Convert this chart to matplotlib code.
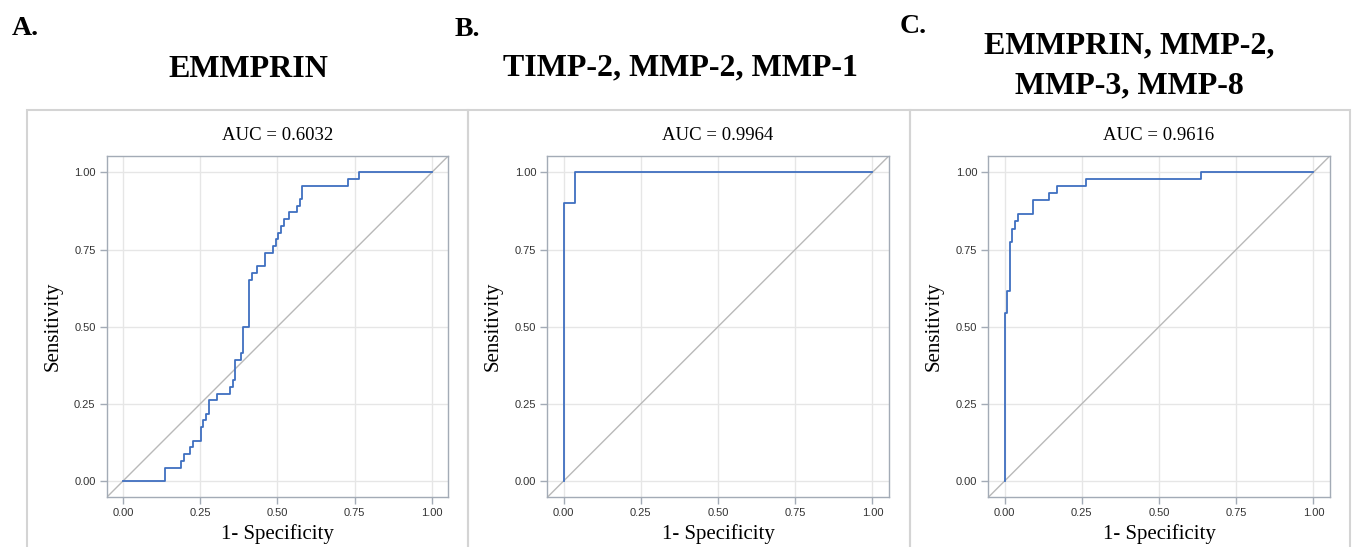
import numpy as np
import matplotlib
matplotlib.use("Agg")
import matplotlib.pyplot as plt
from matplotlib.patches import Rectangle

# ROC step points (1 - specificity, sensitivity)
fpr_a = [0, 0.137, 0.189, 0.197, 0.216, 0.225, 0.251, 0.259, 0.268, 0.277, 0.303,
         0.346, 0.355, 0.364, 0.381, 0.390, 0.408, 0.417, 0.434, 0.460, 0.485,
         0.494, 0.502, 0.512, 0.521, 0.538, 0.564, 0.573, 0.581, 0.729, 0.765, 1.0]
tpr_a = [0, 0.043, 0.065, 0.087, 0.109, 0.130, 0.174, 0.196, 0.217, 0.261, 0.283,
         0.304, 0.326, 0.391, 0.413, 0.500, 0.652, 0.674, 0.696, 0.739, 0.761,
         0.783, 0.804, 0.826, 0.848, 0.870, 0.891, 0.913, 0.957, 0.978, 1.0, 1.0]

fpr_b = [0, 0, 0.037, 1.0]
tpr_b = [0, 0.9, 1.0, 1.0]

fpr_c = [0, 0, 0.008, 0.016, 0.024, 0.032, 0.043, 0.091, 0.143, 0.169, 0.262, 0.635, 1.0]
tpr_c = [0, 0.545, 0.614, 0.773, 0.818, 0.841, 0.864, 0.909, 0.932, 0.955, 0.977, 1.0, 1.0]

panel_letters = ["A.", "B.", "C."]
panel_titles = ["EMMPRIN", "TIMP-2, MMP-2, MMP-1", "EMMPRIN, MMP-2,\nMMP-3, MMP-8"]
auc_values = [0.6032, 0.9964, 0.9616]
ticks = [0.0, 0.25, 0.5, 0.75, 1.0]
tick_labels = ["0.00", "0.25", "0.50", "0.75", "1.00"]

W, H = 1352, 547
fig = plt.figure(figsize=(W / 100, H / 100), dpi=100)

serif = "Liberation Serif"
sans = "Liberation Sans"
blue = "#3f6fc0"
frame_col = "#a3abb6"
grid_col = "#e6e6e6"
diag_col = "#b9b9b9"
box_col = "#d4d4d4"

curves = [(fpr_a, tpr_a), (fpr_b, tpr_b), (fpr_c, tpr_c)]
ax_left = [106.7, 547.3, 988.3]
ax_w = 341.5
ax_top, ax_bot = 156, 497.3
box_edges = [27, 468, 910, 1350]
letter_pos = [(12, 35), (455, 36), (900, 33)]
title_base = [77, 75, 93]
title_x = [248, 680, 1129]

for i in range(3):
    # grey outer frame of each panel
    x0 = box_edges[i]
    x1 = box_edges[i + 1]
    fig.add_artist(Rectangle((x0 / W, -0.1), (x1 - x0) / W, 0.1 + 1 - 110 / H,
                             transform=fig.transFigure, fill=False,
                             edgecolor=box_col, lw=1.5))

    left = ax_left[i]
    ax = fig.add_axes([left / W, 1 - ax_bot / H, ax_w / W, (ax_bot - ax_top) / H])
    fpr, tpr = curves[i]
    ax.axline((0, 0), (1, 1), color=diag_col, lw=1.0, zorder=2)
    ax.plot(fpr, tpr, drawstyle="steps-post", color=blue, lw=1.3, zorder=3)
    ax.set_xlim(-0.053, 1.053)
    ax.set_ylim(-0.053, 1.053)
    ax.set_xticks(ticks)
    ax.set_yticks(ticks)
    ax.set_xticklabels(tick_labels, fontfamily=sans, fontsize=8, color="#333333")
    ax.set_yticklabels(tick_labels, fontfamily=sans, fontsize=8, color="#333333")
    ax.tick_params(direction="out", length=5, width=1, color=frame_col, pad=3)
    ax.grid(True, color=grid_col, lw=1.0)
    ax.set_axisbelow(True)
    for sp in ax.spines.values():
        sp.set_color(frame_col)
        sp.set_linewidth(1.0)

    cx = left + ax_w / 2
    fig.text(cx / W, 1 - 140 / H, "AUC = %.4f" % auc_values[i],
             fontfamily=serif, fontsize=13.5, ha="center", va="baseline")
    fig.text(cx / W, 1 - 539 / H, "1- Specificity",
             fontfamily=serif, fontsize=15, ha="center", va="baseline")
    fig.text((left - 54) / W, 1 - 326.5 / H, "Sensitivity", rotation=90,
             fontfamily=serif, fontsize=15, ha="center", va="center")

    lx, ly = letter_pos[i]
    fig.text(lx / W, 1 - ly / H, panel_letters[i], fontfamily=serif,
             fontweight="bold", fontsize=20, ha="left", va="baseline")

    # panel title
    fig.text(title_x[i] / W, 1 - title_base[i] / H, panel_titles[i], fontfamily=serif,
             fontweight="bold", fontsize=23, ha="center", va="baseline",
             multialignment="center", linespacing=1.48)

fig.savefig("out.png", dpi=100)
